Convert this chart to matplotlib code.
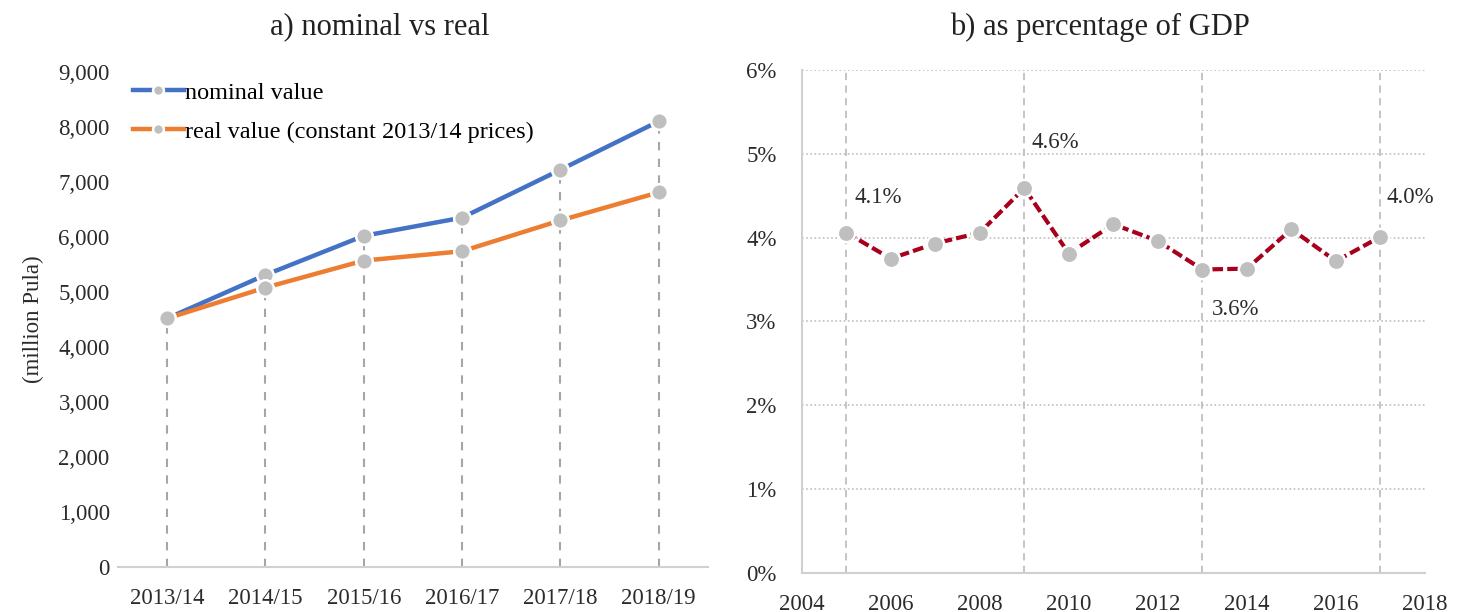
import matplotlib
matplotlib.use("Agg")
import matplotlib.pyplot as plt
from matplotlib.ticker import FuncFormatter

plt.rcParams['font.family'] = ['Liberation Serif', 'DejaVu Serif']

# panel a) data (million Pula)
years_a = ["2013/14", "2014/15", "2015/16", "2016/17", "2017/18", "2018/19"]
nominal = [4520, 5310, 6020, 6350, 7220, 8100]
real = [4520, 5080, 5570, 5740, 6300, 6810]

# panel b) data (% of GDP)
years_b = [2005, 2006, 2007, 2008, 2009, 2010, 2011, 2012, 2013, 2014, 2015, 2016, 2017]
share = [4.06, 3.75, 3.93, 4.06, 4.59, 3.81, 4.16, 3.96, 3.62, 3.63, 4.10, 3.72, 4.01]
labelled = {2005: "4.1%", 2009: "4.6%", 2013: "3.6%", 2017: "4.0%"}
label_offsets = {2005: (8, 35), 2009: (7, 46), 2013: (9, -40), 2017: (6, 39)}

TXT = "#2b2b2b"
GRID = "#BFBFBF"
MARK = "#BFBFBF"

fig = plt.figure(figsize=(14.63, 6.12), dpi=100)

# ---------------- panel a ----------------
ax1 = fig.add_axes([0.0807, 0.0735, 0.403, 0.809])
x = list(range(len(years_a)))
tops = [max(n, r) for n, r in zip(nominal, real)]
ax1.vlines(x, 0, tops, colors="#A6A6A6", linestyles=(0, (4, 4)), linewidth=1.5, zorder=1)
ax1.plot(x, nominal, color="#4472C4", linewidth=3.2, marker="o", markersize=12,
         markerfacecolor=MARK, markeredgecolor="white", markeredgewidth=1.8,
         label="nominal value", zorder=3)
ax1.plot(x, real, color="#ED7D31", linewidth=3.2, marker="o", markersize=12,
         markerfacecolor=MARK, markeredgecolor="white", markeredgewidth=1.8,
         label="real value (constant 2013/14 prices)", zorder=3)
ax1.set_xlim(-0.5, len(years_a) - 0.5)
ax1.set_ylim(0, 9000)
ax1.set_yticks(range(0, 9001, 1000))
ax1.yaxis.set_major_formatter(FuncFormatter(lambda v, p: f"{int(v):,}"))
ax1.set_xticks(x)
ax1.set_xticklabels(years_a)
for s in ["top", "right", "left"]:
    ax1.spines[s].set_visible(False)
ax1.spines["bottom"].set_color("#D0D0D0")
ax1.spines["bottom"].set_linewidth(1.5)
ax1.tick_params(axis="both", length=0, labelsize=16.5, colors=TXT)
ax1.tick_params(axis="x", pad=15)
ax1.tick_params(axis="y", pad=6)
ax1.set_ylabel("(million Pula)", fontsize=16.5, color=TXT, labelpad=10)
ax1.legend(loc="upper left", bbox_to_anchor=(0.0, 1.01), frameon=False, fontsize=17.5,
           handlelength=2.1, handletextpad=0.05, labelspacing=0.7, borderaxespad=0.2,
           markerscale=0.65)
fig.text(380 / 1463, 1 - 27 / 612, "a) nominal vs real", ha="center", va="center",
         fontsize=22, color="#222222")

# ---------------- panel b ----------------
ax2 = fig.add_axes([0.548, 0.0637, 0.426, 0.822])
ax2.set_xlim(2004, 2018)
ax2.set_ylim(0, 6)
ax2.set_yticks(range(0, 7))
ax2.yaxis.set_major_formatter(FuncFormatter(lambda v, p: f"{int(v)}%"))
ax2.set_xticks(range(2004, 2019, 2))
ax2.grid(axis="y", color=GRID, linestyle=(0, (1, 1.5)), linewidth=1.2)
for yr in labelled:
    ax2.axvline(yr, color=GRID, linestyle=(0, (4, 3)), linewidth=1.3, zorder=1)
ax2.plot(years_b, share, color="#A8001C", linewidth=3, linestyle=(0, (2.6, 1)),
         marker="o", markersize=12.5, markerfacecolor=MARK, markeredgecolor="white",
         markeredgewidth=1.8, zorder=3)
for yr, txt in labelled.items():
    v = share[years_b.index(yr)]
    ax2.annotate(txt, (yr, v), xytext=label_offsets[yr], textcoords="offset pixels",
                 ha="left", va="center", fontsize=16.5, color=TXT)
for s in ["top", "right"]:
    ax2.spines[s].set_visible(False)
for s in ["left", "bottom"]:
    ax2.spines[s].set_color("#D0D0D0")
    ax2.spines[s].set_linewidth(1.5)
ax2.tick_params(axis="both", length=0, labelsize=16.5, colors=TXT)
ax2.tick_params(axis="x", pad=15)
ax2.tick_params(axis="y", pad=18)
fig.text(1100 / 1463, 1 - 27 / 612, "b) as percentage of GDP", ha="center", va="center",
         fontsize=22, color="#222222")

fig.savefig("out.png", dpi=100, facecolor="white")
